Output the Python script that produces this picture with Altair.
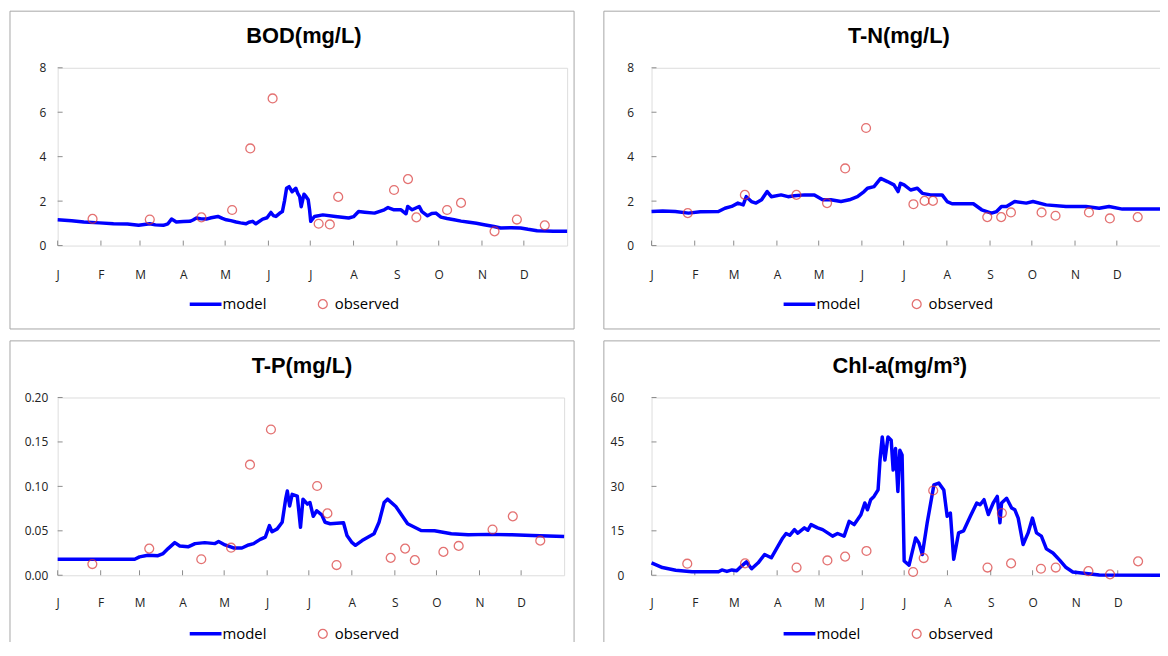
import altair as alt
import pandas as pd

# ---------------- data ----------------
MONTH_START = [0, 31, 59, 90, 120, 151, 181, 212, 243, 273, 304, 334]
MONTH_LABELS = ["J", "F", "M", "A", "M", "J", "J", "A", "S", "O", "N", "D"]
LEGEND_LABELS = ["model", "observed"]
TITLES = ["BOD(mg/L)", "T-N(mg/L)", "T-P(mg/L)", "Chl-a(mg/m³)"]

BOD_MODEL_DAY = [0, 10, 18.7, 30, 40, 50, 58, 66, 70, 75.7, 79, 81.6, 85, 90, 94.7, 97, 99.4, 103, 106.5, 110,
                 114.8, 118, 120.8, 124, 127.9, 131, 135, 137, 139.7, 142, 146.9, 150, 152.8, 154.5, 156.4, 159,
                 161, 162.5, 164, 165.8, 168, 170.6, 172, 173.4, 174.5, 176.5, 178, 179.5, 180.5, 181.3, 184, 190,
                 199, 208.5, 212, 215.6, 220, 227, 234, 236.7, 241, 246, 249.6, 250.8, 254, 259, 261, 265, 268,
                 271, 274.6, 279, 284, 289, 293.6, 300, 305.5, 312.6, 317.4, 325, 331.6, 337, 343.5, 350, 355, 365]
BOD_MODEL_VAL = [1.16, 1.12, 1.06, 1.02, 0.98, 0.97, 0.91, 0.98, 0.93, 0.91, 0.98, 1.19, 1.06, 1.08, 1.09, 1.15,
                 1.24, 1.2, 1.19, 1.25, 1.31, 1.22, 1.16, 1.12, 1.06, 1.02, 0.98, 1.05, 1.09, 0.98, 1.19, 1.25,
                 1.49, 1.35, 1.31, 1.45, 1.53, 2.0, 2.58, 2.65, 2.42, 2.58, 2.35, 2.2, 1.75, 2.31, 2.2, 2.06, 1.6,
                 1.09, 1.31, 1.38, 1.31, 1.24, 1.3, 1.53, 1.5, 1.46, 1.61, 1.71, 1.61, 1.61, 1.43, 1.76, 1.61,
                 1.76, 1.53, 1.34, 1.44, 1.46, 1.28, 1.22, 1.16, 1.1, 1.06, 1.0, 0.94, 0.86, 0.79, 0.8, 0.79,
                 0.73, 0.67, 0.65, 0.64, 0.64]
BOD_OBS_DAY = [25, 66, 103, 125, 138, 154, 187, 195, 201, 241, 251, 257, 279, 289, 313, 329, 349]
BOD_OBS_VAL = [1.2, 1.17, 1.27, 1.6, 4.37, 6.62, 0.98, 0.95, 2.19, 2.5, 2.99, 1.27, 1.6, 1.92, 0.64, 1.17, 0.91]

TN_MODEL_DAY = [0, 8, 17, 26.5, 35, 48, 52.7, 57.5, 62, 65.8, 68, 71.7, 75, 79, 83, 86, 93, 98, 102.6, 109.8,
                116.9, 122.8, 128.7, 136, 142, 147.8, 152.6, 155, 159.7, 164.5, 169.3, 174, 177, 178.7, 181.3,
                186, 190.8, 194.4, 200.3, 208.6, 212.2, 215.7, 231, 237, 244, 247.7, 251.2, 254.8, 260.7, 269,
                273.8, 283.3, 297.5, 311.8, 321.3, 328.4, 338, 365]
TN_MODEL_VAL = [1.53, 1.55, 1.53, 1.46, 1.52, 1.53, 1.68, 1.76, 1.91, 1.83, 2.2, 1.98, 1.91, 2.06, 2.43, 2.2,
                2.28, 2.2, 2.24, 2.28, 2.28, 2.06, 2.06, 1.98, 2.06, 2.2, 2.43, 2.58, 2.65, 3.02, 2.88, 2.73,
                2.43, 2.8, 2.73, 2.5, 2.58, 2.35, 2.28, 2.28, 1.98, 1.88, 1.88, 1.61, 1.46, 1.53, 1.76, 1.76,
                1.98, 1.91, 1.98, 1.83, 1.76, 1.76, 1.68, 1.76, 1.64, 1.64]
TN_OBS_DAY = [26, 67, 104, 126, 139, 154, 188, 196, 202, 241, 251, 258, 280, 290, 314, 329, 349]
TN_OBS_VAL = [1.46, 2.28, 2.28, 1.91, 3.47, 5.29, 1.86, 2.01, 2.01, 1.28, 1.28, 1.49, 1.49, 1.34, 1.49, 1.22, 1.28]

TP_MODEL_DAY = [0, 30, 55.5, 59, 65, 72.3, 76, 79.6, 84.4, 88, 94, 99, 106, 113.4, 116, 120.6, 126.7, 132.8,
                137.6, 141.2, 146, 149.7, 152.6, 154.5, 158.2, 161.8, 164.3, 165.5, 167.2, 169, 172.7, 175,
                176.8, 180, 181.8, 184.2, 186.7, 190.3, 192.7, 196.4, 206, 208.5, 212.2, 214.6, 219.4, 228,
                231.6, 235.3, 237.7, 243.7, 252.2, 261.9, 271.6, 283.7, 295.8, 310.4, 327.3, 341.9, 365]
TP_MODEL_VAL = [0.018, 0.018, 0.018, 0.0207, 0.0226, 0.022, 0.0244, 0.030, 0.0367, 0.033, 0.032, 0.0356,
                0.0367, 0.0356, 0.038, 0.0341, 0.0307, 0.0307, 0.0341, 0.0356, 0.0404, 0.043, 0.0559, 0.049,
                0.0522, 0.0596, 0.0856, 0.0948, 0.078, 0.091, 0.089, 0.054, 0.0856, 0.080, 0.0819, 0.0663,
                0.0726, 0.068, 0.0596, 0.058, 0.059, 0.0448, 0.0367, 0.0337, 0.039, 0.0467, 0.0596, 0.0819,
                0.0856, 0.0774, 0.058, 0.0504, 0.05, 0.0467, 0.0456, 0.046, 0.0456, 0.0448, 0.0437]
TP_OBS_DAY = [25, 66, 103.5, 125, 138.6, 153.7, 187, 194.4, 201, 240, 250.4, 257.4, 278, 289, 313.4, 328, 347.8]
TP_OBS_VAL = [0.0126, 0.030, 0.018, 0.031, 0.1244, 0.164, 0.1004, 0.0696, 0.0115, 0.0196, 0.030, 0.017,
              0.0263, 0.033, 0.0515, 0.0663, 0.0389]

CHL_MODEL_DAY = [0, 7.8, 17.3, 29, 48, 50.4, 54, 57.6, 61, 64.5, 68, 71.7, 76.4, 81, 85.8, 90.6, 94, 96.4, 99,
                 102.4, 104.8, 109.5, 112, 114.3, 119, 122.6, 126.2, 129.7, 133.3, 138, 141.6, 145.2, 150,
                 152.8, 154.7, 157, 159.4, 162.3, 163.7, 165.3, 167.2, 169.4, 171.7, 173.1, 174.8, 176.5, 177.9,
                 179.5, 181, 184.5, 189.2, 191.6, 194, 197.5, 202.3, 205.8, 209.4, 211.8, 214.1, 216.5, 220,
                 223.6, 228.4, 233, 235.4, 238.2, 241.3, 244.8, 247.7, 249.6, 250.8, 254.4, 258, 260.3, 262.7,
                 266.2, 269.8, 272.9, 275.8, 279.3, 282.9, 287.6, 292.4, 297, 301.8, 311.3, 320.8, 365]
CHL_MODEL_VAL = [4.2, 2.6, 1.7, 1.2, 1.2, 1.8, 1.3, 1.8, 1.5, 3.1, 4.5, 2.2, 4.2, 7.0, 5.9, 9.8, 12.6, 14.1,
                 13.5, 15.4, 14.2, 16.0, 15.2, 17.1, 16.0, 15.4, 14.3, 13.2, 14.1, 13.2, 18.2, 17.1, 20.4, 24.4,
                 22.1, 25.5, 26.6, 28.8, 38.9, 46.7, 38.9, 46.7, 45.6, 35.5, 42.8, 28.3, 42.2, 40.6, 4.8, 3.4,
                 12.6, 10.9, 7.0, 17.7, 30.5, 31.1, 28.8, 19.9, 21.0, 5.4, 14.3, 15.0, 19.9, 24.4, 23.8, 25.5,
                 20.5, 24.4, 26.6, 17.7, 24.4, 26.0, 22.7, 22.1, 19.3, 10.4, 14.3, 19.3, 14.3, 13.2, 8.9, 7.5,
                 5.1, 2.6, 1.1, 0.6, 0.1, 0.0]
CHL_OBS_DAY = [25.6, 67, 103.9, 126, 138.7, 154, 187.4, 195, 201.8, 240.7, 251, 257.6, 279, 289.6, 313, 328.5,
               348.6]
CHL_OBS_VAL = [3.9, 4.0, 2.6, 5.0, 6.3, 8.2, 1.1, 5.8, 28.6, 2.6, 21.0, 4.0, 2.2, 2.6, 1.4, 0.3, 4.7]

# ---------------- style ----------------
BLUE = "#0000ff"
RED = "#d93636"
GRAY = "#a6a6a6"
LABEL_FONT = "Open Sans"
TITLE_FONT = "Liberation Sans"
H = 179

month_expr = "[" + ",".join("'%s'" % m for m in MONTH_LABELS) + "][indexof([" + \
    ",".join(str(d) for d in MONTH_START) + "], datum.value)]"


def edge(x1, x2, y1, y2):
    return alt.Chart(pd.DataFrame({"edge": [0]})).mark_rule(color=GRAY, strokeWidth=1).encode(
        x=alt.value(x1), x2=alt.value(x2), y=alt.value(y1), y2=alt.value(y2))


def panel(title, mday, mval, oday, oval, ymax, yvals, yfmt, width, ylabpad, xlabpad, title_x,
          right_x, draw_right, box_bottom, draw_bottom):
    model = pd.DataFrame({"day": mday, "value": mval})
    obs = pd.DataFrame({"day": oday, "value": oval})

    x_enc = alt.X("day:Q",
                  scale=alt.Scale(domain=[0, 365], nice=False, zero=False),
                  axis=alt.Axis(values=MONTH_START, labelExpr=month_expr, title=None, grid=False,
                                domain=False, ticks=False, labelPadding=xlabpad, labelFontSize=12,
                                labelFont=LABEL_FONT, labelColor="#222222", labelFlush=False))
    y_enc = alt.Y("value:Q",
                  scale=alt.Scale(domain=[0, ymax], nice=False, zero=True),
                  axis=alt.Axis(values=yvals, format=yfmt, title=None, grid=False, domain=False,
                                ticks=False, labelPadding=ylabpad, labelFontSize=12, labelFont=LABEL_FONT,
                                labelColor="#222222", labelFlush=False))

    layers = [edge(-48, right_x, -57, -57), edge(-48, -48, -57, box_bottom)]
    if draw_right:
        layers.append(edge(right_x, right_x, -57, box_bottom))
    if draw_bottom:
        layers.append(edge(-48, right_x, box_bottom, box_bottom))

    ttl = alt.Chart(pd.DataFrame({"title": [title]})).mark_text(
        font=TITLE_FONT, fontSize=22, fontWeight="bold", align="center", baseline="alphabetic",
        color="#000000").encode(x=alt.value(title_x), y=alt.value(-25), text="title:N")

    xt = alt.Chart(pd.DataFrame({"day": MONTH_START})).mark_rule(color="#8c8c8c", strokeWidth=1).encode(
        x="day:Q", y=alt.value(H), y2=alt.value(H - 5))
    yt = alt.Chart(pd.DataFrame({"value": yvals})).mark_rule(color="#8c8c8c", strokeWidth=1).encode(
        y="value:Q", x=alt.value(0), x2=alt.value(5))

    line = alt.Chart(model).mark_line(color=BLUE, strokeWidth=3.5, strokeJoin="round").encode(
        x=x_enc, y=y_enc)
    pts = alt.Chart(obs).mark_point(shape="circle", filled=False, color=RED, size=80,
                                    strokeWidth=1.3).encode(x="day:Q", y="value:Q")

    ly = H + 59
    leg_line = alt.Chart(pd.DataFrame({"label": [LEGEND_LABELS[0]]})).mark_rule(
        color=BLUE, strokeWidth=3.5).encode(x=alt.value(133), x2=alt.value(165), y=alt.value(ly))
    leg_t1 = alt.Chart(pd.DataFrame({"label": [LEGEND_LABELS[0]]})).mark_text(
        align="left", baseline="middle", font=LABEL_FONT, fontSize=15, color="#000000").encode(
        x=alt.value(166), y=alt.value(ly), text="label:N")
    leg_pt = alt.Chart(pd.DataFrame({"label": [LEGEND_LABELS[1]]})).mark_point(
        shape="circle", filled=False, color=RED, size=80, strokeWidth=1.3).encode(
        x=alt.value(267), y=alt.value(ly))
    leg_t2 = alt.Chart(pd.DataFrame({"label": [LEGEND_LABELS[1]]})).mark_text(
        align="left", baseline="middle", font=LABEL_FONT, fontSize=15, color="#000000").encode(
        x=alt.value(279), y=alt.value(ly), text="label:N")

    layers += [ttl, xt, yt, line, pts, leg_line, leg_t1, leg_pt, leg_t2]
    return alt.layer(*layers).properties(width=width, height=H)


tl = panel(TITLES[0], BOD_MODEL_DAY, BOD_MODEL_VAL, BOD_OBS_DAY, BOD_OBS_VAL, 8, [0, 2, 4, 6, 8], "d",
           513, 12, 24, 248, 520, True, 263, True)
tr = panel(TITLES[1], TN_MODEL_DAY, TN_MODEL_VAL, TN_OBS_DAY, TN_OBS_VAL, 8, [0, 2, 4, 6, 8], "d",
           512, 18, 24, 249, 530, False, 263, True)
bl = panel(TITLES[2], TP_MODEL_DAY, TP_MODEL_VAL, TP_OBS_DAY, TP_OBS_VAL, 0.2,
           [0, 0.05, 0.10, 0.15, 0.20], ".2f", 510, 10, 22, 246, 520, True, 275, False)
br = panel(TITLES[3], CHL_MODEL_DAY, CHL_MODEL_VAL, CHL_OBS_DAY, CHL_OBS_VAL, 60, [0, 15, 30, 45, 60], "d",
           513, 28, 22, 250, 530, False, 275, False)

chart = alt.concat(tl, tr, bl, br, columns=2, spacing=alt.RowColnumber(row=153, column=85),
                   bounds="flush").properties(
    padding={"left": 1, "top": 0, "right": -19, "bottom": -32}
).configure_view(stroke=GRAY, strokeWidth=1).configure(background="white")

chart.save("out.html", embed_options={"renderer": "svg", "actions": False})
